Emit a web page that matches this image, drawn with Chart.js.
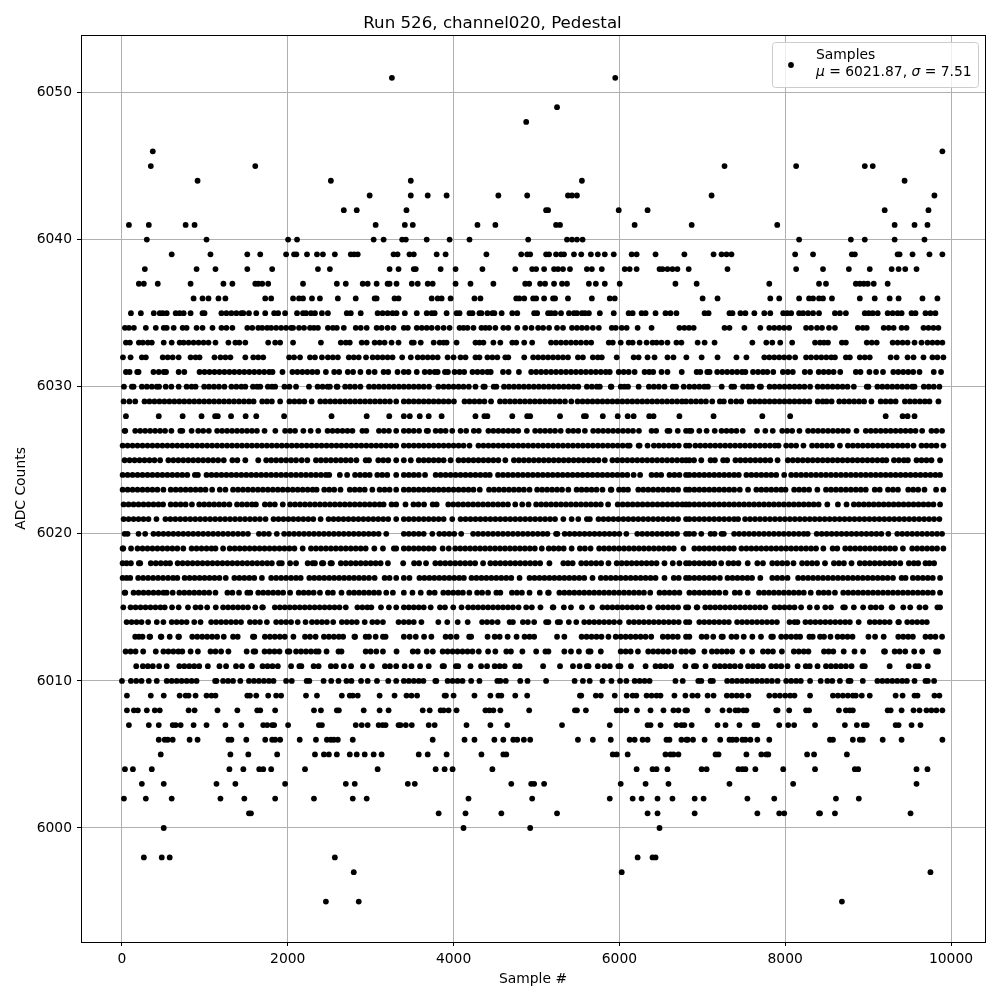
<!DOCTYPE html>
<html lang="en">
<head>
  <meta charset="UTF-8">
  <title>Run 526, channel020, Pedestal</title>
  <script src="https://cdn.jsdelivr.net/npm/chart.js"></script>
  <style>
    body { margin: 0; background: #fff; }
    canvas { display: block; }
  </style>
</head>
<body>
  <canvas id="pedestalChart" width="1000" height="1000"></canvas>
  <script>
    const titleText = 'Run 526, channel020, Pedestal';
    const xLabel = 'Sample #';
    const yLabel = 'ADC Counts';
    const seriesName = 'Samples';
    const muText = '6021.87';
    const sigmaText = '7.51';
    const xTicks = [0, 2000, 4000, 6000, 8000, 10000];
    const yTicks = [6000, 6010, 6020, 6030, 6040, 6050];

    // sample numbers, one list per ADC level
    const s6051 = [3256, 5950];
    const s6049 = [5248];
    const s6048 = [4876];
    const s6046 = [372, 9896];
    const s6045 = [348, 1608, 7268, 8132, 8960, 9056];
    const s6044 = [912, 2520, 3484, 5548, 9440];
    const s6043 = [2988, 3484, 3688, 3916, 4540, 4888, 5380, 5428, 5488, 7112, 9800];
    const s6042 = [2676, 2832, 3432, 5116, 5140, 5992, 6340, 9200, 9728];
    const s6041 = [84, 324, 768, 876, 3060, 3412, 3508, 4288, 4504, 5236, 5284, 6184, 6872, 7904, 9320, 9560, 9716];
    const s6040 = [300, 1020, 2004, 2112, 3036, 3156, 3380, 3424, 3676, 3952, 4192, 4900, 5368, 5428, 5488, 5556, 8168, 8792, 8960, 9320, 9680];
    const s6039 = [600, 1068, 1512, 1668, 1980, 2076, 2104, 2232, 2352, 2424, 2568, 2760, 2800, 2844, 3276, 3324, 3468, 3520, 3796, 3904, 4396, 4816, 4888, 4924, 5116, 5152, 5236, 5296, 5332, 5452, 5540, 5656, 5740, 5824, 5932, 6148, 6208, 6436, 6784, 7136, 7232, 7292, 7352, 8120, 8336, 8804, 8840, 9356, 9380, 9536, 9740, 9896];
    const s6038 = [276, 900, 1128, 1512, 1812, 2364, 2508, 3228, 3336, 3520, 3544, 3844, 4024, 4348, 4744, 4948, 4996, 5092, 5212, 5260, 5320, 5404, 5608, 5668, 5788, 6064, 6124, 6208, 6484, 6520, 6580, 6640, 6700, 6836, 7304, 8132, 8456, 8768, 9020, 9284, 9368, 9448, 9584];
    const s6037 = [204, 264, 432, 828, 1224, 1332, 1608, 1644, 1692, 1764, 2184, 2592, 2700, 2904, 2964, 3072, 3204, 3228, 3312, 3496, 3568, 3688, 3748, 4024, 4204, 4480, 4864, 4912, 5044, 5104, 5212, 5308, 5368, 5632, 5716, 5824, 6004, 6676, 6932, 7808, 8408, 8492, 8852, 8900, 8948, 8996, 9068, 9236];
    const s6036 = [864, 972, 1044, 1164, 1248, 1728, 1800, 2064, 2136, 2184, 2292, 2388, 2604, 2820, 3048, 3072, 3288, 3336, 3736, 3808, 3856, 3964, 4252, 4324, 4756, 4792, 4852, 4960, 4996, 5092, 5200, 5224, 5380, 5668, 5884, 5944, 7004, 7184, 7820, 7928, 8168, 8288, 8336, 8408, 8456, 8564, 8900, 9080, 9260, 9368, 9656, 9836];
    const s6035 = [108, 228, 384, 456, 492, 540, 648, 696, 744, 828, 972, 996, 1200, 1260, 1320, 1380, 1440, 1464, 1532, 1620, 1728, 1836, 1884, 1968, 2112, 2184, 2220, 2280, 2328, 2412, 2484, 2712, 2760, 2880, 3084, 3144, 3204, 3264, 3312, 3412, 3556, 3676, 3736, 3772, 3916, 4036, 4072, 4192, 4228, 4312, 4336, 4408, 4468, 4492, 4580, 4708, 4768, 4972, 5008, 5140, 5176, 5224, 5296, 5392, 5452, 5488, 5548, 5584, 5632, 5764, 5932, 6112, 6160, 6268, 6316, 6436, 6556, 6616, 6688, 7028, 7076, 7328, 7364, 7460, 7520, 7628, 7748, 7820, 7976, 8024, 8072, 8168, 8216, 8276, 8336, 8408, 8600, 8660, 8732, 8960, 9008, 9056, 9116, 9236, 9296, 9356, 9404, 9524, 9572, 9692, 9752, 9812];
    const s6034 = [36, 84, 144, 288, 408, 504, 540, 624, 732, 780, 900, 972, 1092, 1200, 1260, 1332, 1512, 1572, 1644, 1692, 1752, 1800, 1860, 1920, 1980, 2040, 2064, 2136, 2196, 2268, 2316, 2364, 2484, 2544, 2592, 2676, 2820, 2880, 2952, 3072, 3132, 3204, 3276, 3400, 3448, 3556, 3616, 3676, 3736, 3808, 3880, 3952, 4072, 4120, 4168, 4240, 4336, 4384, 4432, 4504, 4600, 4660, 4768, 4864, 4940, 5020, 5080, 5152, 5248, 5320, 5428, 5488, 5548, 5608, 5680, 5752, 5908, 5956, 6028, 6088, 6220, 6388, 6724, 6784, 6840, 6896, 7268, 7328, 7508, 7700, 7808, 7868, 7928, 7988, 8048, 8252, 8312, 8384, 8444, 8528, 8600, 8876, 8936, 8984, 9188, 9248, 9308, 9404, 9464, 9668, 9728, 9788, 9848];
    const s6033 = [48, 96, 204, 252, 312, 360, 504, 600, 696, 744, 804, 864, 924, 984, 1044, 1128, 1284, 1368, 1416, 1488, 1764, 1848, 1908, 2064, 2400, 2640, 2700, 2748, 2892, 2952, 3048, 3108, 3168, 3252, 3336, 3496, 3520, 3604, 3760, 3832, 3880, 3916, 4036, 4264, 4312, 4360, 4480, 4564, 4708, 4756, 4852, 4948, 5176, 5236, 5296, 5356, 5416, 5476, 5536, 5600, 5660, 5872, 5920, 6016, 6112, 6160, 6244, 6328, 6400, 6448, 6508, 6580, 6688, 6748, 6944, 7028, 7148, 7604, 7772, 7844, 7940, 8084, 8360, 8420, 8468, 8516, 8684, 8732, 8984, 9044, 9104, 9296, 9356, 9416, 9476, 9560, 9644, 9716, 9776, 9836, 9896];
    const s6032 = [12, 104, 240, 288, 492, 552, 612, 684, 828, 888, 936, 1116, 1188, 1248, 1308, 1488, 1584, 1644, 1704, 2016, 2076, 2148, 2268, 2328, 2412, 2484, 2544, 2604, 2736, 2796, 2856, 2944, 3024, 3084, 3144, 3204, 3264, 3380, 3484, 3568, 3628, 3688, 3748, 3808, 3928, 4000, 4084, 4144, 4264, 4312, 4408, 4468, 4528, 4624, 4660, 4852, 4960, 5020, 5080, 5140, 5200, 5260, 5320, 5380, 5500, 5560, 5680, 5740, 5788, 5968, 6172, 6232, 6340, 6424, 6580, 6652, 6808, 6992, 7184, 7412, 7532, 7748, 7808, 7868, 7928, 7988, 8048, 8120, 8252, 8312, 8376, 8436, 8496, 8556, 8600, 8732, 8780, 8900, 8960, 9020, 9272, 9344, 9476, 9548, 9668, 9776, 9836, 9908];
    const s6031 = [48, 92, 184, 200, 380, 444, 504, 532, 684, 752, 936, 996, 1056, 1116, 1176, 1236, 1296, 1356, 1416, 1476, 1536, 1596, 1656, 1716, 1776, 1816, 1936, 2056, 2116, 2176, 2236, 2296, 2356, 2460, 2560, 2620, 2724, 2788, 2876, 2976, 3048, 3156, 3212, 3324, 3400, 3456, 3556, 3652, 3712, 3772, 3808, 3896, 3932, 4012, 4072, 4128, 4228, 4288, 4348, 4408, 4448, 4596, 4664, 4788, 4936, 4996, 5056, 5116, 5176, 5236, 5296, 5356, 5416, 5476, 5536, 5596, 5656, 5716, 5776, 5836, 5884, 5992, 6052, 6112, 6184, 6304, 6360, 6408, 6508, 6580, 6752, 6932, 6976, 7060, 7088, 7180, 7240, 7300, 7360, 7420, 7480, 7520, 7612, 7672, 7732, 7784, 7856, 7972, 8032, 8092, 8236, 8300, 8404, 8464, 8524, 8584, 8664, 8852, 8908, 9016, 9096, 9180, 9304, 9364, 9424, 9484, 9544, 9620, 9792, 9880];
    const s6030 = [24, 120, 140, 240, 300, 360, 420, 448, 528, 596, 684, 780, 840, 888, 992, 1050, 1110, 1170, 1236, 1320, 1380, 1440, 1488, 1580, 1630, 1668, 1760, 1810, 1848, 1960, 2020, 2100, 2256, 2360, 2420, 2480, 2508, 2590, 2600, 2692, 2750, 2810, 2876, 2980, 3040, 3100, 3160, 3220, 3280, 3340, 3400, 3460, 3520, 3580, 3640, 3704, 3816, 3880, 3940, 4000, 4060, 4120, 4184, 4264, 4360, 4376, 4484, 4516, 4608, 4668, 4728, 4788, 4848, 4908, 4968, 5028, 5088, 5148, 5208, 5268, 5328, 5388, 5448, 5504, 5608, 5668, 5728, 5764, 5896, 5904, 6016, 6060, 6104, 6232, 6356, 6416, 6476, 6544, 6644, 6684, 6776, 6844, 6904, 6964, 7024, 7068, 7234, 7352, 7384, 7492, 7550, 7600, 7692, 7708, 7812, 7872, 7932, 7992, 8052, 8112, 8172, 8232, 8300, 8392, 8452, 8512, 8572, 8632, 8692, 8752, 8828, 8984, 9004, 9112, 9172, 9232, 9292, 9352, 9412, 9472, 9532, 9560, 9672, 9732, 9792, 9860];
    const s6029 = [20, 90, 160, 272, 332, 392, 452, 512, 572, 632, 692, 752, 812, 872, 932, 992, 1052, 1112, 1172, 1232, 1292, 1352, 1412, 1472, 1532, 1588, 1692, 1750, 1808, 1908, 2020, 2080, 2140, 2200, 2288, 2392, 2452, 2512, 2572, 2632, 2692, 2752, 2812, 2872, 2932, 2992, 3052, 3112, 3172, 3232, 3308, 3400, 3460, 3520, 3580, 3640, 3700, 3760, 3820, 3880, 3940, 4004, 4132, 4192, 4252, 4312, 4372, 4452, 4560, 4620, 4680, 4740, 4800, 4860, 4920, 4980, 5040, 5100, 5160, 5220, 5280, 5344, 5420, 5496, 5556, 5616, 5676, 5736, 5796, 5856, 5916, 5976, 6036, 6096, 6156, 6216, 6276, 6336, 6396, 6456, 6516, 6576, 6636, 6696, 6756, 6804, 6864, 6924, 6984, 7044, 7120, 7212, 7260, 7344, 7410, 7470, 7572, 7632, 7692, 7752, 7812, 7872, 7932, 7992, 8052, 8112, 8172, 8232, 8292, 8392, 8452, 8500, 8560, 8652, 8712, 8772, 8832, 8892, 8952, 9040, 9152, 9212, 9272, 9332, 9444, 9504, 9564, 9624, 9684, 9740, 9848];
    const s6028 = [48, 444, 732, 960, 1124, 1156, 1316, 1492, 1620, 1956, 2528, 2952, 3224, 3400, 3472, 3592, 3700, 3856, 4264, 4372, 4408, 4708, 4888, 4924, 5284, 5572, 5596, 5800, 5980, 6100, 6172, 6360, 6412, 6724, 7136, 7724, 8060, 9212, 9416, 9476, 9560];
    const s6027 = [32, 40, 160, 220, 280, 340, 400, 460, 520, 596, 704, 728, 840, 920, 980, 1048, 1148, 1208, 1268, 1328, 1388, 1448, 1508, 1568, 1628, 1720, 1850, 1968, 2028, 2088, 2188, 2276, 2368, 2480, 2540, 2600, 2660, 2720, 2780, 2900, 2948, 3100, 3160, 3220, 3308, 3400, 3460, 3520, 3584, 3676, 3692, 3784, 3844, 3904, 3984, 4084, 4152, 4244, 4304, 4420, 4480, 4540, 4600, 4660, 4720, 4780, 4884, 4984, 5044, 5104, 5164, 5224, 5292, 5384, 5444, 5504, 5584, 5684, 5744, 5804, 5864, 5924, 5984, 6044, 6104, 6164, 6236, 6388, 6444, 6580, 6604, 6704, 6804, 6844, 6868, 6964, 7052, 7150, 7232, 7292, 7352, 7412, 7488, 7660, 7760, 7850, 7964, 8024, 8084, 8172, 8276, 8336, 8396, 8456, 8516, 8576, 8636, 8696, 8756, 8860, 8972, 9032, 9092, 9152, 9212, 9272, 9332, 9392, 9452, 9512, 9572, 9652, 9764, 9824, 9892];
    const s6026 = [8, 68, 128, 188, 248, 308, 368, 428, 488, 548, 608, 668, 728, 788, 848, 908, 968, 1028, 1088, 1148, 1208, 1268, 1328, 1388, 1448, 1508, 1568, 1628, 1688, 1748, 1808, 1868, 1928, 1988, 2048, 2108, 2168, 2228, 2288, 2348, 2408, 2468, 2528, 2588, 2648, 2708, 2768, 2828, 2888, 2948, 3008, 3068, 3128, 3188, 3248, 3308, 3400, 3460, 3520, 3580, 3640, 3700, 3760, 3820, 3880, 3940, 4000, 4060, 4120, 4192, 4300, 4360, 4420, 4480, 4540, 4600, 4660, 4720, 4780, 4840, 4900, 4960, 5020, 5080, 5140, 5200, 5260, 5320, 5380, 5440, 5500, 5560, 5620, 5680, 5740, 5800, 5860, 5920, 5980, 6040, 6100, 6124, 6232, 6244, 6340, 6416, 6476, 6536, 6596, 6656, 6716, 6804, 6844, 6916, 6976, 7036, 7096, 7156, 7216, 7276, 7336, 7396, 7456, 7516, 7576, 7636, 7696, 7756, 7816, 7876, 7920, 8012, 8072, 8132, 8220, 8324, 8384, 8444, 8504, 8564, 8660, 8756, 8816, 8876, 8936, 8996, 9056, 9116, 9176, 9236, 9296, 9356, 9416, 9476, 9548, 9644, 9704, 9764, 9824, 9908];
    const s6025 = [32, 92, 152, 212, 272, 332, 392, 460, 560, 620, 680, 740, 800, 860, 920, 980, 1040, 1100, 1160, 1228, 1332, 1392, 1488, 1644, 1740, 1800, 1860, 1920, 1980, 2040, 2100, 2168, 2236, 2340, 2400, 2460, 2520, 2580, 2640, 2700, 2760, 2828, 2940, 2980, 3092, 3152, 3212, 3308, 3400, 3484, 3580, 3640, 3700, 3760, 3820, 3880, 3964, 4060, 4120, 4180, 4240, 4300, 4360, 4420, 4480, 4540, 4624, 4728, 4788, 4848, 4908, 4968, 5028, 5088, 5148, 5208, 5268, 5328, 5388, 5448, 5508, 5568, 5628, 5688, 5748, 5824, 5916, 5976, 6036, 6096, 6156, 6216, 6276, 6336, 6396, 6456, 6516, 6576, 6636, 6696, 6756, 6804, 6844, 6900, 6988, 7100, 7152, 7252, 7300, 7400, 7460, 7520, 7580, 7640, 7700, 7760, 7820, 7908, 8032, 8092, 8152, 8212, 8272, 8332, 8392, 8452, 8512, 8572, 8632, 8692, 8752, 8812, 8872, 8932, 8992, 9052, 9112, 9172, 9220, 9312, 9372, 9432, 9480, 9584, 9644, 9704, 9764, 9868];
    const s6024 = [8, 68, 128, 188, 248, 308, 368, 428, 488, 548, 608, 668, 728, 788, 880, 916, 1020, 1080, 1140, 1200, 1260, 1320, 1380, 1440, 1500, 1560, 1620, 1680, 1740, 1800, 1860, 1920, 1980, 2040, 2100, 2160, 2220, 2280, 2340, 2400, 2460, 2500, 2628, 2716, 2812, 2872, 2932, 2988, 3080, 3140, 3200, 3308, 3400, 3460, 3520, 3580, 3656, 3784, 3844, 3904, 3964, 4024, 4084, 4144, 4204, 4264, 4324, 4384, 4436, 4536, 4596, 4656, 4716, 4776, 4836, 4896, 4956, 5016, 5076, 5136, 5196, 5256, 5316, 5376, 5436, 5496, 5556, 5616, 5676, 5736, 5796, 5856, 5916, 5976, 6036, 6096, 6172, 6250, 6388, 6448, 6504, 6604, 6664, 6724, 6804, 6844, 6904, 6964, 7024, 7084, 7144, 7204, 7264, 7324, 7384, 7440, 7532, 7592, 7652, 7712, 7772, 7832, 7892, 7988, 8072, 8132, 8192, 8252, 8312, 8372, 8432, 8492, 8552, 8612, 8672, 8732, 8792, 8852, 8912, 8972, 9032, 9092, 9152, 9212, 9272, 9332, 9392, 9452, 9512, 9572, 9632, 9692, 9752, 9812, 9868];
    const s6023 = [8, 68, 128, 188, 248, 308, 368, 428, 500, 588, 648, 708, 768, 828, 888, 948, 1008, 1088, 1180, 1248, 1340, 1400, 1460, 1520, 1580, 1640, 1700, 1760, 1820, 1880, 1940, 2000, 2060, 2120, 2180, 2240, 2300, 2348, 2440, 2500, 2560, 2636, 2748, 2808, 2868, 2928, 3020, 3108, 3168, 3228, 3308, 3400, 3460, 3520, 3580, 3640, 3700, 3760, 3820, 3880, 3940, 4000, 4060, 4120, 4180, 4240, 4316, 4428, 4488, 4548, 4608, 4668, 4728, 4788, 4848, 4916, 5008, 5068, 5128, 5188, 5248, 5308, 5384, 5484, 5544, 5604, 5664, 5724, 5796, 5896, 5904, 5996, 6050, 6104, 6228, 6288, 6348, 6408, 6468, 6528, 6588, 6648, 6708, 6804, 6844, 6904, 6964, 7024, 7084, 7144, 7204, 7264, 7324, 7384, 7452, 7552, 7652, 7712, 7772, 7832, 7892, 7952, 8004, 8108, 8168, 8228, 8288, 8388, 8492, 8552, 8612, 8672, 8732, 8792, 8852, 8912, 8972, 9080, 9140, 9240, 9300, 9360, 9484, 9544, 9604, 9680, 9820, 9908];
    const s6022 = [20, 80, 140, 200, 260, 320, 380, 440, 496, 588, 648, 708, 768, 844, 932, 992, 1052, 1112, 1172, 1232, 1296, 1388, 1448, 1508, 1568, 1616, 1724, 1784, 1844, 1940, 2028, 2088, 2148, 2208, 2268, 2328, 2388, 2448, 2508, 2568, 2628, 2688, 2748, 2808, 2868, 2928, 2988, 3048, 3108, 3156, 3252, 3308, 3420, 3516, 3576, 3644, 3748, 3796, 3936, 3996, 4056, 4116, 4176, 4236, 4296, 4356, 4416, 4476, 4536, 4596, 4656, 4744, 4828, 4904, 4996, 5056, 5116, 5176, 5236, 5296, 5356, 5416, 5476, 5536, 5596, 5656, 5716, 5776, 5864, 5980, 6040, 6100, 6160, 6220, 6280, 6340, 6400, 6460, 6520, 6580, 6640, 6700, 6760, 6804, 6844, 6904, 6964, 7024, 7084, 7144, 7204, 7264, 7324, 7384, 7444, 7504, 7564, 7624, 7684, 7744, 7804, 7864, 7924, 7984, 8044, 8104, 8164, 8224, 8284, 8344, 8404, 8508, 8636, 8740, 8828, 8888, 8948, 9008, 9068, 9128, 9188, 9248, 9308, 9368, 9428, 9488, 9548, 9608, 9668, 9728, 9788, 9868];
    const s6021 = [20, 80, 140, 200, 260, 320, 416, 524, 584, 644, 704, 764, 824, 884, 944, 1004, 1064, 1124, 1184, 1244, 1304, 1364, 1424, 1484, 1544, 1604, 1664, 1732, 1828, 1888, 1948, 2008, 2068, 2128, 2188, 2248, 2308, 2396, 2492, 2552, 2612, 2672, 2732, 2792, 2852, 2912, 2972, 3032, 3092, 3152, 3212, 3308, 3400, 3460, 3520, 3580, 3640, 3700, 3760, 3820, 3880, 3984, 4084, 4144, 4204, 4264, 4324, 4384, 4444, 4504, 4564, 4624, 4684, 4744, 4804, 4864, 4924, 4984, 5044, 5104, 5164, 5224, 5324, 5424, 5504, 5608, 5644, 5748, 5808, 5868, 5928, 5988, 6048, 6108, 6168, 6228, 6288, 6348, 6408, 6468, 6528, 6588, 6648, 6708, 6804, 6844, 6904, 6964, 7024, 7084, 7144, 7204, 7264, 7324, 7384, 7432, 7516, 7576, 7636, 7696, 7756, 7816, 7876, 7936, 7996, 8056, 8116, 8176, 8236, 8296, 8356, 8416, 8476, 8536, 8596, 8656, 8716, 8776, 8836, 8896, 8956, 9016, 9076, 9136, 9196, 9256, 9316, 9376, 9436, 9496, 9556, 9616, 9676, 9736, 9796, 9860];
    const s6020 = [32, 68, 200, 280, 380, 440, 500, 560, 620, 680, 740, 800, 860, 920, 980, 1040, 1100, 1160, 1220, 1280, 1340, 1400, 1460, 1520, 1652, 1712, 1772, 1868, 1956, 2016, 2076, 2136, 2196, 2256, 2316, 2376, 2436, 2496, 2556, 2616, 2676, 2736, 2796, 2856, 2916, 2976, 3036, 3096, 3188, 3400, 3460, 3520, 3580, 3640, 3744, 3828, 3888, 3948, 4008, 4092, 4236, 4296, 4356, 4416, 4476, 4536, 4596, 4656, 4716, 4776, 4836, 4896, 4956, 5016, 5076, 5132, 5236, 5252, 5340, 5400, 5460, 5520, 5580, 5640, 5700, 5760, 5820, 5880, 5940, 6000, 6084, 6216, 6276, 6336, 6396, 6456, 6516, 6576, 6636, 6696, 6804, 6844, 6900, 6988, 7100, 7148, 7232, 7260, 7384, 7444, 7504, 7564, 7624, 7684, 7744, 7804, 7864, 7924, 7984, 8044, 8104, 8164, 8224, 8272, 8380, 8440, 8500, 8560, 8620, 8680, 8740, 8800, 8860, 8920, 8980, 9040, 9100, 9160, 9244, 9352, 9412, 9472, 9532, 9592, 9652, 9712, 9772, 9832, 9892];
    const s6019 = [8, 16, 110, 188, 248, 308, 368, 428, 488, 548, 608, 668, 740, 840, 900, 960, 1020, 1080, 1128, 1220, 1300, 1360, 1420, 1480, 1540, 1600, 1660, 1720, 1780, 1840, 1900, 1960, 2020, 2080, 2180, 2280, 2340, 2400, 2460, 2520, 2580, 2640, 2700, 2760, 2820, 2880, 2940, 3044, 3148, 3280, 3308, 3400, 3460, 3520, 3580, 3640, 3700, 3760, 3868, 3942, 4020, 4080, 4140, 4200, 4260, 4320, 4380, 4440, 4500, 4560, 4620, 4680, 4740, 4800, 4860, 4920, 4980, 5064, 5148, 5208, 5268, 5328, 5424, 5524, 5584, 5652, 5756, 5816, 5876, 5936, 5996, 6056, 6116, 6176, 6236, 6296, 6356, 6416, 6476, 6536, 6596, 6656, 6772, 6904, 6964, 7024, 7084, 7144, 7204, 7264, 7324, 7380, 7472, 7532, 7592, 7652, 7712, 7772, 7832, 7892, 7952, 8012, 8072, 8132, 8192, 8252, 8312, 8372, 8460, 8572, 8628, 8724, 8784, 8844, 8904, 8964, 9024, 9084, 9144, 9204, 9264, 9324, 9420, 9532, 9592, 9652, 9712, 9772, 9832, 9908];
    const s6018 = [8, 56, 108, 204, 220, 348, 408, 468, 528, 580, 672, 732, 792, 852, 912, 972, 1032, 1092, 1152, 1212, 1272, 1332, 1392, 1452, 1512, 1572, 1632, 1692, 1752, 1808, 1896, 1928, 2028, 2100, 2240, 2300, 2328, 2412, 2428, 2516, 2532, 2640, 2700, 2760, 2820, 2880, 2940, 3000, 3060, 3120, 3208, 3392, 3524, 3584, 3668, 3780, 3840, 3900, 3960, 4020, 4080, 4140, 4200, 4260, 4356, 4444, 4504, 4564, 4624, 4684, 4744, 4804, 4864, 4924, 4984, 5044, 5156, 5324, 5380, 5436, 5540, 5600, 5660, 5720, 5780, 5868, 5968, 6028, 6088, 6148, 6208, 6268, 6328, 6388, 6448, 6544, 6644, 6724, 6804, 6844, 6904, 6964, 7024, 7084, 7144, 7228, 7316, 7376, 7436, 7548, 7664, 7732, 7844, 7904, 7964, 8024, 8100, 8204, 8264, 8324, 8384, 8480, 8588, 8648, 8708, 8800, 8900, 8960, 9020, 9080, 9140, 9200, 9260, 9320, 9388, 9492, 9552, 9604, 9692, 9740, 9796];
    const s6017 = [8, 56, 100, 196, 256, 316, 376, 436, 496, 556, 616, 668, 756, 816, 876, 936, 996, 1056, 1116, 1176, 1252, 1356, 1416, 1476, 1536, 1596, 1688, 1800, 1860, 1920, 1980, 2040, 2100, 2156, 2260, 2320, 2380, 2440, 2500, 2560, 2620, 2680, 2740, 2800, 2860, 2920, 2980, 3048, 3168, 3228, 3308, 3400, 3468, 3588, 3648, 3708, 3768, 3828, 3888, 3948, 4008, 4068, 4124, 4216, 4276, 4336, 4396, 4456, 4516, 4576, 4636, 4696, 4796, 4916, 4976, 5036, 5096, 5156, 5216, 5276, 5336, 5396, 5456, 5516, 5576, 5676, 5776, 5836, 5896, 5956, 6016, 6076, 6136, 6196, 6256, 6316, 6376, 6436, 6544, 6656, 6716, 6804, 6844, 6904, 6964, 7024, 7084, 7144, 7212, 7304, 7364, 7424, 7484, 7544, 7600, 7700, 7844, 7904, 7964, 8028, 8156, 8216, 8276, 8336, 8396, 8456, 8516, 8576, 8636, 8696, 8756, 8816, 8876, 8936, 8996, 9056, 9116, 9176, 9236, 9300, 9404, 9452, 9540, 9600, 9660, 9720, 9780, 9868];
    const s6016 = [32, 40, 140, 200, 260, 320, 380, 440, 500, 540, 612, 692, 752, 812, 872, 932, 992, 1052, 1128, 1272, 1332, 1412, 1512, 1548, 1644, 1704, 1764, 1824, 1884, 1944, 2028, 2132, 2192, 2252, 2312, 2388, 2484, 2544, 2648, 2740, 2800, 2860, 2920, 2980, 3040, 3100, 3188, 3268, 3400, 3504, 3604, 3708, 3772, 3876, 3936, 3996, 4056, 4112, 4190, 4284, 4344, 4416, 4516, 4564, 4704, 4764, 4824, 4916, 5040, 5140, 5148, 5276, 5336, 5396, 5456, 5516, 5576, 5636, 5696, 5756, 5816, 5876, 5936, 5996, 6056, 6116, 6176, 6236, 6296, 6372, 6484, 6544, 6604, 6664, 6724, 6844, 6904, 6964, 7024, 7084, 7144, 7204, 7280, 7392, 7452, 7548, 7684, 7744, 7804, 7864, 7924, 7984, 8044, 8104, 8164, 8224, 8308, 8404, 8464, 8524, 8600, 8700, 8760, 8820, 8880, 8940, 9000, 9060, 9120, 9180, 9240, 9300, 9360, 9420, 9480, 9540, 9600, 9660, 9720, 9780, 9868];
    const s6015 = [16, 104, 164, 224, 284, 344, 404, 464, 516, 604, 684, 796, 888, 948, 1028, 1132, 1220, 1280, 1340, 1400, 1460, 1520, 1608, 1692, 1700, 1844, 1904, 1964, 2024, 2084, 2144, 2204, 2264, 2324, 2384, 2444, 2504, 2564, 2624, 2700, 2840, 2900, 2960, 3008, 3124, 3220, 3308, 3400, 3460, 3520, 3580, 3640, 3724, 3836, 3896, 3996, 4096, 4176, 4236, 4296, 4356, 4416, 4476, 4536, 4596, 4656, 4716, 4784, 4876, 4944, 5048, 5196, 5204, 5330, 5416, 5548, 5670, 5796, 5856, 5916, 5976, 6036, 6096, 6156, 6216, 6276, 6364, 6468, 6528, 6588, 6648, 6708, 6804, 6830, 6932, 6940, 7036, 7096, 7156, 7216, 7276, 7336, 7396, 7456, 7516, 7576, 7636, 7696, 7760, 7872, 7932, 7992, 8052, 8112, 8192, 8296, 8384, 8484, 8552, 8700, 8720, 8828, 8940, 9032, 9092, 9160, 9284, 9292, 9424, 9508, 9620, 9692, 9836, 9868];
    const s6014 = [56, 116, 176, 236, 316, 420, 500, 600, 660, 720, 780, 872, 948, 1076, 1136, 1196, 1256, 1316, 1376, 1436, 1544, 1604, 1664, 1748, 1860, 1920, 1980, 2040, 2120, 2214, 2292, 2352, 2412, 2472, 2548, 2652, 2712, 2772, 2832, 2928, 3020, 3080, 3148, 3336, 3400, 3460, 3520, 3612, 3816, 3924, 4050, 4170, 4344, 4404, 4464, 4532, 4676, 4716, 4836, 4896, 4972, 5116, 5144, 5256, 5284, 5390, 5480, 5576, 5636, 5696, 5756, 5816, 5876, 5936, 6004, 6116, 6176, 6236, 6296, 6356, 6416, 6476, 6536, 6596, 6656, 6716, 6804, 6844, 6964, 7024, 7084, 7144, 7204, 7264, 7320, 7420, 7480, 7540, 7600, 7660, 7720, 7780, 7840, 7900, 8052, 8112, 8148, 8244, 8304, 8364, 8424, 8484, 8544, 8604, 8664, 8724, 8780, 8886, 9020, 9080, 9140, 9200, 9260, 9364, 9372, 9472, 9532, 9592, 9652, 9708];
    const s6013 = [160, 204, 248, 332, 340, 468, 476, 576, 680, 688, 848, 908, 968, 1028, 1088, 1148, 1228, 1340, 1396, 1580, 1596, 1724, 1784, 1844, 1904, 1964, 2068, 2208, 2268, 2336, 2436, 2496, 2556, 2616, 2668, 2804, 2812, 2940, 2980, 3060, 3148, 3180, 3400, 3470, 3544, 3644, 3732, 3904, 3964, 4036, 4188, 4212, 4410, 4496, 4556, 4652, 4760, 4856, 4916, 4972, 5248, 5336, 5544, 5604, 5664, 5724, 5784, 5868, 5956, 6016, 6076, 6136, 6196, 6256, 6316, 6384, 6524, 6584, 6644, 6704, 6804, 6844, 6992, 7052, 7132, 7232, 7248, 7352, 7412, 7500, 7604, 7708, 7832, 7852, 7952, 8012, 8072, 8132, 8180, 8292, 8332, 8420, 8468, 8546, 8632, 8692, 8752, 8812, 9004, 9084, 9188, 9364, 9424, 9484, 9540, 9692, 9752, 9812, 9892];
    const s6012 = [44, 104, 164, 256, 408, 500, 560, 620, 680, 728, 828, 916, 1068, 1128, 1196, 1284, 1504, 1588, 1608, 1720, 1780, 1840, 1900, 2000, 2020, 2100, 2160, 2220, 2280, 2340, 2372, 2468, 2612, 2648, 2940, 3000, 3068, 3148, 3312, 3508, 3568, 3676, 3750, 3868, 3928, 3988, 4048, 4108, 4168, 4228, 4304, 4416, 4504, 4636, 4692, 4830, 4996, 5108, 5144, 5336, 5416, 5512, 5628, 5652, 5776, 6016, 6076, 6136, 6224, 6348, 6408, 6468, 6528, 6588, 6664, 6748, 6804, 6872, 6888, 7026, 7116, 7176, 7236, 7296, 7360, 7484, 7600, 7732, 7792, 7852, 7960, 8104, 8164, 8224, 8280, 8468, 8524, 8580, 8706, 8836, 8940, 9192, 9204, 9320, 9380, 9448, 9556, 9652, 9820, 9844];
    const s6011 = [172, 252, 312, 372, 448, 540, 692, 752, 812, 872, 932, 1036, 1176, 1256, 1376, 1448, 1560, 1568, 1696, 1756, 1816, 1880, 2040, 2140, 2164, 2312, 2372, 2520, 2580, 2676, 2764, 2908, 3014, 3172, 3232, 3308, 3410, 3492, 3596, 3700, 3868, 3884, 4028, 4056, 4204, 4332, 4404, 4496, 4556, 4616, 4744, 4796, 5080, 5284, 5440, 5520, 5608, 5628, 5740, 5820, 5884, 5988, 6012, 6140, 6316, 6436, 6496, 6556, 6624, 6796, 6900, 6924, 7040, 7152, 7212, 7272, 7332, 7392, 7460, 7552, 7612, 7672, 7732, 7832, 7892, 7952, 8028, 8150, 8248, 8296, 8390, 8492, 8552, 8612, 8672, 8732, 8800, 8932, 8960, 9260, 9490, 9572, 9612, 9720];
    const s6010 = [0, 108, 172, 236, 324, 420, 540, 600, 660, 720, 780, 840, 900, 1124, 1140, 1220, 1280, 1340, 1428, 1532, 1592, 1652, 1712, 1772, 1828, 1980, 2048, 2228, 2260, 2432, 2524, 2612, 2708, 2768, 2884, 2964, 3076, 3212, 3308, 3400, 3460, 3520, 3580, 3636, 3780, 3792, 3928, 3988, 4048, 4108, 4212, 4312, 4528, 4564, 4630, 4804, 4892, 5116, 5460, 5560, 5642, 5796, 5904, 6008, 6084, 6184, 6244, 6304, 6364, 6676, 6764, 6952, 6988, 7100, 7128, 7300, 7360, 7420, 7480, 7540, 7600, 7660, 7720, 7780, 7840, 7908, 8012, 8072, 8132, 8188, 8300, 8428, 8508, 8568, 8660, 8764, 8788, 8936, 9112, 9172, 9232, 9292, 9352, 9412, 9468, 9560, 9692, 9720, 9796];
    const s6009 = [60, 348, 504, 696, 768, 804, 888, 1020, 1080, 1128, 1512, 1544, 1620, 1764, 1860, 1920, 2220, 2352, 2652, 2748, 2784, 2844, 3108, 3288, 3432, 3492, 3560, 3892, 3908, 4000, 4252, 4444, 4540, 4576, 4744, 4888, 5524, 5540, 5716, 5776, 5944, 6088, 6160, 6204, 6328, 6388, 6448, 6496, 6664, 6796, 6880, 6944, 7064, 7136, 7296, 7356, 7416, 7476, 7556, 7808, 7876, 7936, 8000, 8060, 8112, 8300, 8576, 8636, 8696, 8756, 8816, 8852, 8924, 9020, 9332, 9416, 9560, 9596, 9800, 9860];
    const s6008 = [60, 144, 192, 300, 396, 456, 804, 876, 1152, 1392, 1632, 1668, 1848, 2316, 2400, 2592, 2616, 2916, 3108, 3216, 3628, 3712, 3844, 3880, 3940, 4036, 4384, 4432, 4480, 4564, 4912, 5464, 5488, 5596, 5968, 6016, 6084, 6212, 6376, 6532, 6652, 6712, 6796, 6816, 7064, 7244, 7328, 7400, 7436, 7496, 7532, 7892, 7908, 8048, 8252, 8288, 8648, 8732, 8780, 8816, 9236, 9272, 9404, 9548, 9620, 9704, 9764, 9824, 9896];
    const s6007 = [84, 324, 444, 612, 648, 708, 864, 1020, 1248, 1440, 1704, 1752, 1812, 1836, 2004, 2376, 2412, 2820, 2892, 2964, 3096, 3144, 3180, 3336, 3360, 3424, 3496, 3700, 3772, 4156, 4444, 4648, 5308, 5884, 6340, 6376, 6496, 6688, 6748, 6784, 6872, 7184, 7280, 7448, 7628, 7664, 7928, 8036, 8108, 8360, 8720, 8864, 8948, 8984, 9332, 9368, 9524, 9632];
    const s6006 = [444, 516, 552, 612, 816, 912, 1284, 1320, 1500, 1728, 1812, 1848, 1908, 2144, 2340, 2472, 2520, 2556, 2604, 2784, 3748, 4132, 4252, 4492, 4600, 4720, 4768, 4848, 4924, 5500, 5680, 5896, 6124, 6184, 6280, 6340, 6568, 6604, 6748, 6808, 6824, 6888, 7028, 7216, 7328, 7364, 7412, 7484, 7520, 7580, 7664, 7808, 8540, 8576, 8816, 8900, 8936, 9176, 9404, 9896];
    const s6005 = [468, 1308, 1524, 1872, 2328, 2436, 2496, 2592, 2748, 2832, 2928, 3036, 3132, 3580, 3688, 3916, 4336, 4600, 4636, 5920, 5968, 6100, 6556, 6616, 6652, 6712, 7160, 7196, 7532, 7712, 7772, 7796, 8264, 8348, 8744];
    const s6004 = [36, 132, 360, 1296, 1464, 1656, 1704, 1800, 2208, 3084, 3784, 3892, 3988, 4468, 6208, 6400, 6448, 6580, 6992, 7052, 7436, 7484, 7520, 7640, 7976, 8360, 8840, 8880, 9584, 9716];
    const s6003 = [240, 504, 1140, 1368, 1968, 2700, 2808, 3448, 3532, 4696, 4936, 4972, 5092, 6016, 6316, 6592, 7328, 8096, 9584];
    const s6002 = [24, 288, 600, 1188, 1476, 1848, 2316, 2784, 2952, 4180, 4948, 5884, 6160, 6268, 6460, 6640, 6908, 7016, 7544, 7868, 8612, 8888];
    const s6001 = [1532, 1556, 3820, 4144, 4576, 5248, 6340, 6460, 6908, 7664, 7928, 7988, 8408, 8420, 8600, 9512];
    const s6000 = [504, 4120, 4924, 6484];
    const s5998 = [264, 480, 576, 2568, 6220, 6400, 6436];
    const s5997 = [2796, 6028, 9752];
    const s5995 = [2460, 2856, 8684];

    const rows = [
      [6051, s6051], [6049, s6049], [6048, s6048], [6046, s6046], [6045, s6045], [6044, s6044], [6043, s6043],
      [6042, s6042], [6041, s6041], [6040, s6040], [6039, s6039], [6038, s6038], [6037, s6037], [6036, s6036],
      [6035, s6035], [6034, s6034], [6033, s6033], [6032, s6032], [6031, s6031], [6030, s6030], [6029, s6029],
      [6028, s6028], [6027, s6027], [6026, s6026], [6025, s6025], [6024, s6024], [6023, s6023], [6022, s6022],
      [6021, s6021], [6020, s6020], [6019, s6019], [6018, s6018], [6017, s6017], [6016, s6016], [6015, s6015],
      [6014, s6014], [6013, s6013], [6012, s6012], [6011, s6011], [6010, s6010], [6009, s6009], [6008, s6008],
      [6007, s6007], [6006, s6006], [6005, s6005], [6004, s6004], [6003, s6003], [6002, s6002], [6001, s6001],
      [6000, s6000], [5998, s5998], [5997, s5997], [5995, s5995]
    ];
    const samples = [];
    rows.forEach(([level, xs]) => xs.forEach(x => samples.push({ x: x, y: level })));

    const uiFont = '"DejaVu Sans"';

    // frame on all four sides and the matplotlib style legend box
    const framePlugin = {
      id: 'frame',
      afterDraw(chart) {
        const { ctx, chartArea: a } = chart;
        ctx.save();
        ctx.strokeStyle = '#000';
        ctx.lineWidth = 1;
        ctx.strokeRect(a.left + 0.5, a.top + 0.5, a.right - a.left, a.bottom - a.top);

        ctx.beginPath();
        ctx.roundRect(772.5, 42.5, 206, 45, 3);
        ctx.fillStyle = 'rgba(255,255,255,0.8)';
        ctx.fill();
        ctx.strokeStyle = '#ccc';
        ctx.stroke();

        ctx.fillStyle = '#000';
        ctx.beginPath();
        ctx.arc(791, 65, 2.9, 0, Math.PI * 2);
        ctx.fill();

        ctx.textBaseline = 'alphabetic';
        ctx.textAlign = 'left';
        const plain = '13.89px ' + uiFont, ital = 'italic 13.89px ' + uiFont;
        ctx.font = plain;
        ctx.fillText(seriesName, 816, 59);
        let x = 816;
        [[ital, 'μ'], [plain, ' = ' + muText + ', '], [ital, 'σ'], [plain, ' = ' + sigmaText]].forEach(([f, t]) => {
          ctx.font = f;
          ctx.fillText(t, x, 76);
          x += ctx.measureText(t).width;
        });
        ctx.restore();
      }
    };

    new Chart(document.getElementById('pedestalChart'), {
      type: 'scatter',
      data: {
        datasets: [{
          label: seriesName,
          data: samples,
          backgroundColor: '#000',
          borderWidth: 0,
          pointRadius: 2.9,
          pointHoverRadius: 2.9
        }]
      },
      options: {
        responsive: false,
        animation: false,
        devicePixelRatio: 1,
        layout: { padding: { left: 0, right: 15, top: 0, bottom: 0 } },
        plugins: {
          legend: { display: false },
          tooltip: { enabled: false },
          title: {
            display: true,
            text: titleText,
            color: '#000',
            font: { family: uiFont, size: 16.67, weight: 'normal', lineHeight: 1 },
            padding: { top: 15, bottom: 3.33 }
          }
        },
        scales: {
          x: {
            type: 'linear',
            min: -494,
            max: 10410,
            afterBuildTicks: s => { s.ticks = xTicks.map(v => ({ value: v })); },
            afterFit: s => { s.height = 58; },
            grid: { color: '#b0b0b0', lineWidth: 1, tickColor: '#000', tickLength: 4 },
            border: { display: false },
            ticks: { color: '#000', font: { family: uiFont, size: 13.89 }, maxRotation: 0, padding: 5, callback: v => String(v) },
            title: { display: true, text: xLabel, color: '#000', font: { family: uiFont, size: 13.89 }, padding: { top: 2, bottom: 12 } }
          },
          y: {
            type: 'linear',
            min: 5992.25,
            max: 6053.91,
            afterBuildTicks: s => { s.ticks = yTicks.map(v => ({ value: v })); },
            afterFit: s => { s.width = 81; },
            grid: { color: '#b0b0b0', lineWidth: 1, tickColor: '#000', tickLength: 4 },
            border: { display: false },
            ticks: { color: '#000', font: { family: uiFont, size: 13.89 }, padding: 5, callback: v => String(v) },
            title: { display: true, text: yLabel, color: '#000', font: { family: uiFont, size: 13.89 }, padding: { top: 13, bottom: 0 } }
          }
        }
      },
      plugins: [framePlugin]
    });
  </script>
</body>
</html>
